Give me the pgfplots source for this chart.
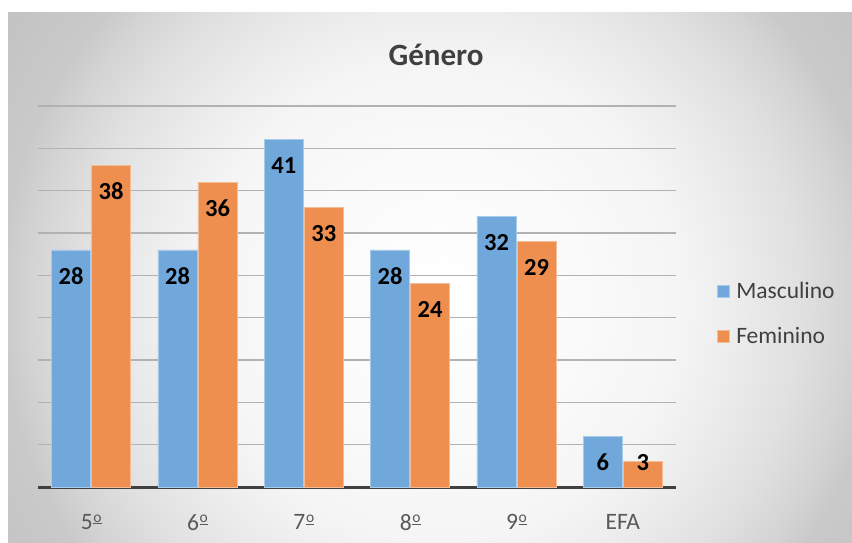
\documentclass[border=0pt]{standalone}
\usepackage{pgfplots}
\pgfplotsset{compat=1.18}
\usepackage{fontspec}
\setmainfont{Carlito}
\definecolor{mblue}{RGB}{112,168,220}
\definecolor{forange}{RGB}{238,143,80}
\definecolor{txt}{RGB}{89,89,89}
\definecolor{ttl}{RGB}{64,64,64}
\pgfdeclareradialshading{bg}{\pgfpoint{0bp}{0bp}}{color(0bp)=(white); color(7.5bp)=(black!2); color(12bp)=(black!4); color(14.5bp)=(black!7); color(18bp)=(black!12); color(20.5bp)=(black!17); color(22bp)=(black!21); color(25bp)=(black!23); color(50bp)=(black!23)}
\newcommand{\ord}{\kern0.6pt\raisebox{7.6pt}{\fontsize{15.5}{15}\selectfont\underline{o}}}
\begin{document}
\begin{tikzpicture}[x=1pt,y=1pt]
\fill[white] (0,0) rectangle (852,542);
\begin{scope}
\clip (8,0) rectangle (852,529);
\shade[shading=bg] (-60,-258) rectangle (940,742);
\end{scope}
\node[font=\fontsize{31}{36}\selectfont\bfseries, text=ttl] at (436,487) {Género};
\begin{axis}[
  at={(38pt,55pt)}, anchor=south west, scale only axis,
  width=638pt, height=381pt,
  xmin=-0.5, xmax=5.5, ymin=0, ymax=45,
  ybar=1pt, bar width=39pt,
  axis x line*=bottom, axis y line*=left,
  x axis line style={line width=3pt, color=ttl, -},
  y axis line style={draw=none},
  xtick={0,...,5}, xticklabels={5\ord,6\ord,7\ord,8\ord,9\ord,EFA},
  xtick style={draw=none}, ytick style={draw=none},
  ytick={0,5,...,45}, yticklabels={},
  ymajorgrids, grid style={black!30, line width=1.3pt},
  xticklabel style={anchor=center, yshift=-31pt, font=\fontsize{23.5}{28}\selectfont, text=txt},
  /pgf/number format/assume math mode=true,
  nodes near coords,
  visualization depends on={y \as \rawy},
  every node near coord/.append style={anchor=center, inner sep=0pt,
    font=\fontsize{24.5}{28}\selectfont\bfseries, text=black,
    yshift={max(-26,24-\rawy*8.4667)}},
  legend style={at={(1.06,0.455)}, anchor=west, draw=none, fill=none,
    font=\fontsize{23.5}{28}\selectfont, text=ttl, row sep=23pt, column sep=4pt},
  legend cell align=left,
  legend image code/.code={\fill[#1] (0pt,-6pt) rectangle (12pt,6pt);},
]
\addplot[fill=mblue, draw=mblue!60!white, line width=0.8pt] coordinates {(0,28) (1,28) (2,41) (3,28) (4,32) (5,6)};
\addplot[fill=forange, draw=forange!60!white, line width=0.8pt] coordinates {(0,38) (1,36) (2,33) (3,24) (4,29) (5,3)};
\legend{Masculino, Feminino}
\end{axis}
\end{tikzpicture}
\end{document}
